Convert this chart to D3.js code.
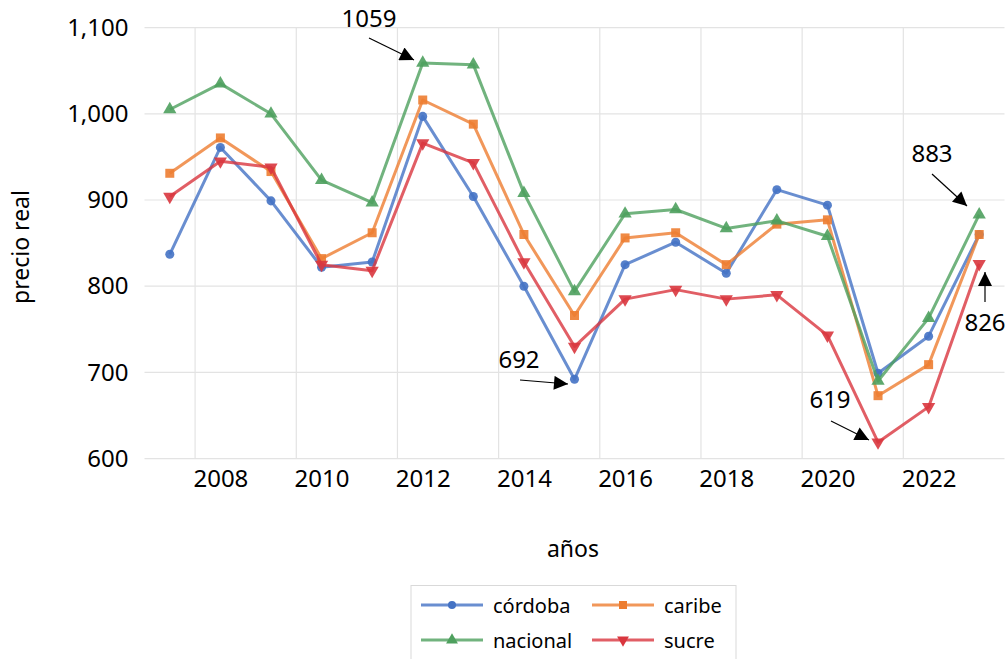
<!DOCTYPE html>
<html><head><meta charset="utf-8">
<script src="https://cdn.jsdelivr.net/npm/d3@7"></script>
<style>body{margin:0;background:#fff}svg{display:block}text{font-family:"Noto Sans",sans-serif;fill:#000}</style>
</head><body><svg id="c" width="1007" height="659"></svg>
<script>
const years = [2007,2008,2009,2010,2011,2012,2013,2014,2015,2016,2017,2018,2019,2020,2021,2022,2023];
const cordoba  = [837,961,899,822,828,997,904,800,692,825,851,815,912,894,699,742,860];
const caribe   = [931,972,933,832,862,1016,988,860,766,856,862,825,872,877,673,709,860];
const nacional = [1005,1035,1000,923,897,1059,1057,908,794,884,889,867,876,858,690,763,883];
const sucre    = [904,945,938,825,818,966,943,828,730,785,796,785,790,743,619,660,826];
const yTicks = [600,700,800,900,1000,1100];
const xTickLabels = [2008,2010,2012,2014,2016,2018,2020,2022];
const xGrid = [2007.5,2009.5,2011.5,2013.5,2015.5,2017.5,2019.5,2021.5];
const annotations = [
  {text:"1059", tx:369, ty:17, x1:369, y1:38, x2:414, y2:60},
  {text:"692",  tx:519, ty:358, x1:520, y1:380, x2:568, y2:384},
  {text:"619",  tx:830, ty:398, x1:831, y1:421, x2:869, y2:440},
  {text:"883",  tx:932, ty:152, x1:932, y1:174, x2:967, y2:206},
  {text:"826",  tx:985, ty:321, x1:985, y1:302, x2:985, y2:272}
];
const series = [
  {name:"córdoba", values:cordoba, color:"#4472C4", sym:d3.symbolCircle, size:64, rot:0},
  {name:"caribe", values:caribe, color:"#ED7D31", sym:d3.symbolSquare, size:81, rot:0},
  {name:"nacional", values:nacional, color:"#4EA05E", sym:d3.symbolTriangle, size:76, rot:0},
  {name:"sucre", values:sucre, color:"#D9363E", sym:d3.symbolTriangle, size:76, rot:180}
];

const svg = d3.select("#c");
const x = d3.scaleLinear().domain([2006.5,2023.5]).range([144.5,1004.5]);
const y = d3.scaleLinear().domain([600,1100]).range([458.6,27.6]);

svg.append("g").selectAll("line").data(yTicks).join("line")
  .attr("x1",x(2006.5)).attr("x2",x(2023.5)).attr("y1",d=>y(d)).attr("y2",d=>y(d))
  .attr("stroke","#e3e3e3").attr("stroke-width",1.2);
svg.append("g").selectAll("line").data(xGrid).join("line")
  .attr("x1",d=>x(d)).attr("x2",d=>x(d)).attr("y1",y(1100)).attr("y2",y(600))
  .attr("stroke","#e3e3e3").attr("stroke-width",1.2);

const yAxis = svg.append("g").attr("transform",`translate(${x(2006.5)},0)`)
  .call(d3.axisLeft(y).tickValues(yTicks).tickFormat(d3.format(",")).tickSize(0).tickPadding(16));
yAxis.select(".domain").remove();
yAxis.selectAll("text").style("font-size","24px").style("font-family","Noto Sans");

const xAxis = svg.append("g").attr("transform",`translate(0,${y(600)})`)
  .call(d3.axisBottom(x).tickValues(xTickLabels).tickFormat(d3.format("d")).tickSize(0).tickPadding(11));
xAxis.select(".domain").remove();
xAxis.selectAll("text").style("font-size","24px").style("font-family","Noto Sans");

svg.append("text").attr("x",573).attr("y",548).attr("text-anchor","middle").attr("dominant-baseline","central")
  .style("font-size","23px").text("años");
svg.append("text").attr("transform","translate(20,247) rotate(-90)").attr("text-anchor","middle").attr("dominant-baseline","central")
  .style("font-size","23px").text("precio real");

const line = d3.line().x((d,i)=>x(years[i])).y(d=>y(d));
series.forEach(s=>{
  const g = svg.append("g");
  g.append("path").datum(s.values).attr("d",line).attr("fill","none")
    .attr("stroke",s.color).attr("stroke-width",3).attr("stroke-opacity",0.8).attr("stroke-linejoin","round");
  g.selectAll("path.m").data(s.values).join("path").attr("class","m")
    .attr("d",d3.symbol(s.sym,s.size))
    .attr("transform",(d,i)=>`translate(${x(years[i])},${y(d)}) rotate(${s.rot})`)
    .attr("fill",s.color).attr("fill-opacity",0.9);
});

svg.append("defs").append("marker").attr("id","arr").attr("viewBox","0 0 10 10")
  .attr("refX",10).attr("refY",5).attr("markerWidth",16).attr("markerHeight",14).attr("orient","auto")
  .attr("markerUnits","userSpaceOnUse")
  .append("path").attr("d","M0,0L10,5L0,10z").attr("fill","#000");
annotations.forEach(a=>{
  svg.append("line").attr("x1",a.x1).attr("y1",a.y1).attr("x2",a.x2).attr("y2",a.y2)
    .attr("stroke","#000").attr("stroke-width",1.2).attr("marker-end","url(#arr)");
  svg.append("text").attr("x",a.tx).attr("y",a.ty).attr("text-anchor","middle").attr("dominant-baseline","central")
    .style("font-size","24px").text(a.text);
});

const lg = svg.append("g");
lg.append("rect").attr("x",411).attr("y",585.5).attr("width",325).attr("height",80)
  .attr("fill","#fff").attr("stroke","#d9d9d9").attr("stroke-width",1);
const legendPos = [{lx:421,ly:605},{lx:592,ly:605},{lx:421,ly:640},{lx:592,ly:640}];
series.forEach((s,i)=>{
  const p = legendPos[i];
  lg.append("line").attr("x1",p.lx).attr("x2",p.lx+62).attr("y1",p.ly).attr("y2",p.ly)
    .attr("stroke",s.color).attr("stroke-width",3).attr("stroke-opacity",0.8);
  lg.append("path").attr("d",d3.symbol(s.sym,s.size*0.8))
    .attr("transform",`translate(${p.lx+31},${p.ly}) rotate(${s.rot})`).attr("fill",s.color);
  lg.append("text").attr("x",p.lx+72).attr("y",p.ly).attr("dominant-baseline","central")
    .style("font-size","20px").text(s.name);
});
</script></body></html>
